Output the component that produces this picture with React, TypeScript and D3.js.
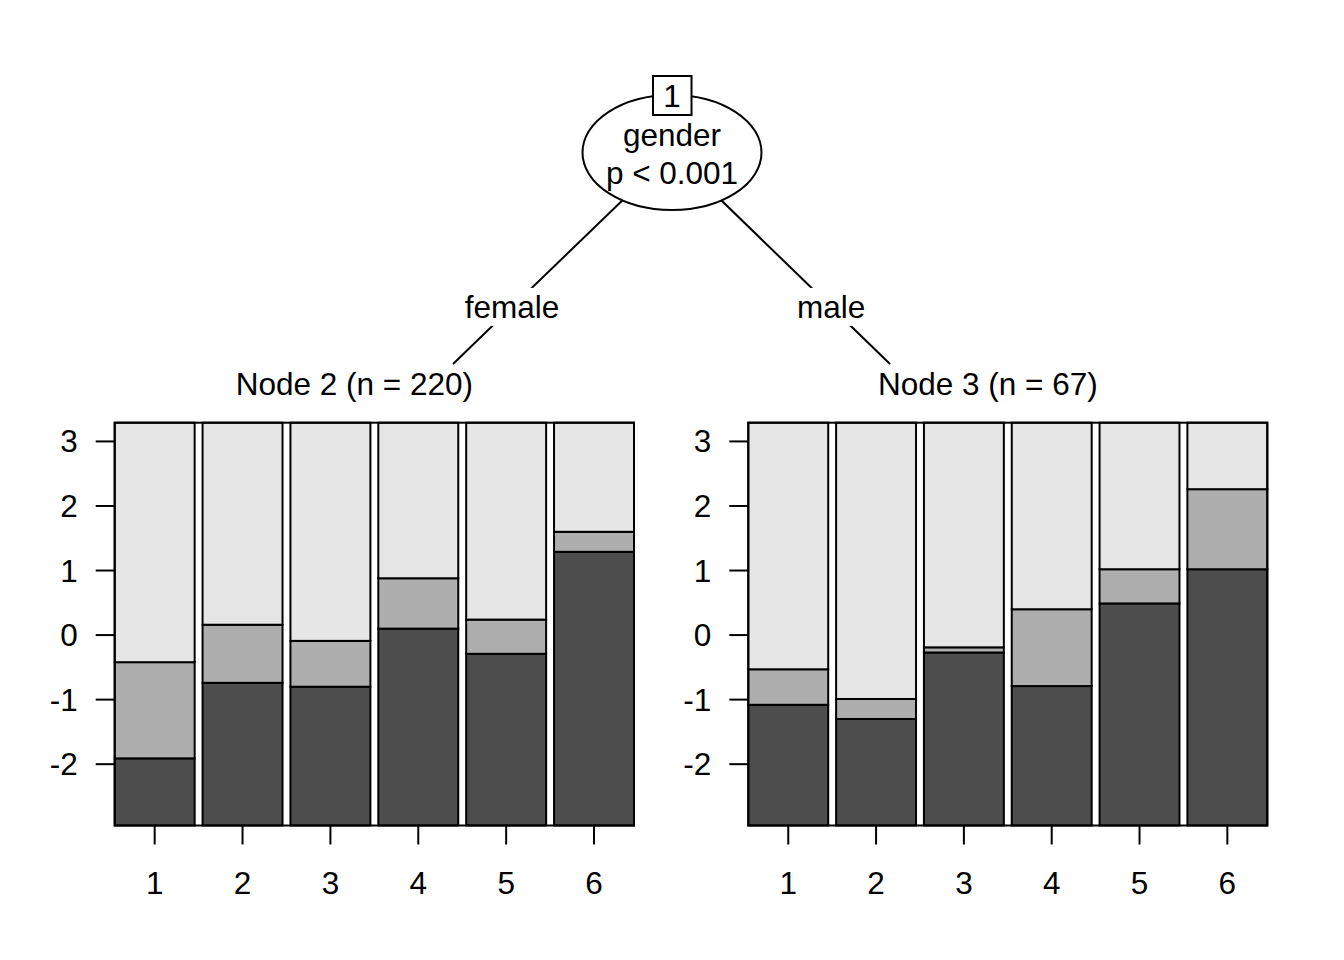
import React from "react"
import * as d3 from "d3"

// ordinal response levels per terminal node, cumulative boundaries
const categories = ["1", "2", "3", "4", "5", "6"]
const yTicks = [-2, -1, 0, 1, 2, 3]

const node2Low = [-1.91, -0.74, -0.8, 0.1, -0.29, 1.29]
const node2Mid = [-0.42, 0.16, -0.09, 0.88, 0.24, 1.6]
const node3Low = [-1.08, -1.3, -0.27, -0.79, 0.49, 1.02]
const node3Mid = [-0.53, -0.99, -0.19, 0.4, 1.02, 2.26]

const yDomain: [number, number] = [-2.95, 3.29]
const fills = ["#4D4D4D", "#AEAEAE", "#E6E6E6"]

const FONT = "'Liberation Sans', Arial, Helvetica, sans-serif"
const FS = 31.5

const y = d3.scaleLinear().domain(yDomain).range([825.5, 422.7])

function Panel({ x0, x1, low, mid, title }: { x0: number; x1: number; low: number[]; mid: number[]; title: string }) {
  const x = d3.scaleBand().domain(categories).range([x0, x1]).paddingInner(0.09).paddingOuter(0)
  const [yMin, yMax] = yDomain
  return (
    <g>
      <text x={x0 - 20 + (x1 - x0) / 2} y={395} textAnchor="middle" fontSize={FS} fontFamily={FONT}>
        {title}
      </text>
      {categories.map((c, i) => {
        const bx = x(c)!
        const w = x.bandwidth()
        const segs = [
          [yMin, low[i]],
          [low[i], mid[i]],
          [mid[i], yMax],
        ]
        return (
          <g key={c}>
            {segs.map((s, k) => (
              <rect
                key={k}
                x={bx}
                y={y(s[1])}
                width={w}
                height={y(s[0]) - y(s[1])}
                fill={fills[k]}
                stroke="#000"
                strokeWidth={2}
              />
            ))}
          </g>
        )
      })}
      <rect x={x0} y={y(yMax)} width={x1 - x0} height={y(yMin) - y(yMax)} fill="none" stroke="#000" strokeWidth={2} />
      {/* y axis */}
      {yTicks.map((t) => (
        <g key={t}>
          <line x1={x0 - 19} x2={x0} y1={y(t)} y2={y(t)} stroke="#000" strokeWidth={2} />
          <text x={x0 - 37} y={y(t) + 11} textAnchor="end" fontSize={FS} fontFamily={FONT}>
            {t}
          </text>
        </g>
      ))}
      {/* x axis */}
      {categories.map((c) => {
        const cx = x(c)! + x.bandwidth() / 2
        return (
          <g key={c}>
            <line x1={cx} x2={cx} y1={y(yMin)} y2={y(yMin) + 19} stroke="#000" strokeWidth={2} />
            <text x={cx} y={894} textAnchor="middle" fontSize={FS} fontFamily={FONT}>
              {c}
            </text>
          </g>
        )
      })}
    </g>
  )
}

function Edge({ x1, y1, x2, y2, label }: { x1: number; y1: number; x2: number; y2: number; label: string }) {
  const t = 0.73
  const lx = x1 + (x2 - x1) * t
  const ly = y1 + (y2 - y1) * t
  const w = label.length * 17 + 8
  return (
    <g>
      <line x1={x1} y1={y1} x2={x2} y2={y2} stroke="#000" strokeWidth={2} />
      <rect x={lx - w / 2} y={ly - 19} width={w} height={38} fill="#fff" />
      <text x={lx} y={ly + 11.5} textAnchor="middle" fontSize={FS} fontFamily={FONT}>
        {label}
      </text>
    </g>
  )
}

export default function App() {
  const cx = 672
  const cy = 152.5
  return (
    <svg
      width={1344}
      height={960}
      style={{ position: "absolute", left: 0, top: 0, display: "block", background: "#fff" }}
    >
      <rect width={1344} height={960} fill="#fff" />
      <Edge x1={cx} y1={cy} x2={453} y2={364} label="female" />
      <Edge x1={cx} y1={cy} x2={890} y2={364} label="male" />
      <ellipse cx={cx} cy={cy} rx={89.5} ry={57.5} fill="#fff" stroke="#000" strokeWidth={2} />
      <text x={cx} y={146} textAnchor="middle" fontSize={FS} fontFamily={FONT}>
        gender
      </text>
      <text x={cx} y={184} textAnchor="middle" fontSize={FS} fontFamily={FONT}>
        p &lt; 0.001
      </text>
      <rect x={653} y={76} width={38.5} height={39} fill="#fff" stroke="#000" strokeWidth={2} />
      <text x={cx} y={106.5} textAnchor="middle" fontSize={FS} fontFamily={FONT}>
        1
      </text>
      <Panel x0={114.7} x1={634} low={node2Low} mid={node2Mid} title="Node 2 (n = 220)" />
      <Panel x0={748.3} x1={1267.3} low={node3Low} mid={node3Mid} title="Node 3 (n = 67)" />
    </svg>
  )
}
